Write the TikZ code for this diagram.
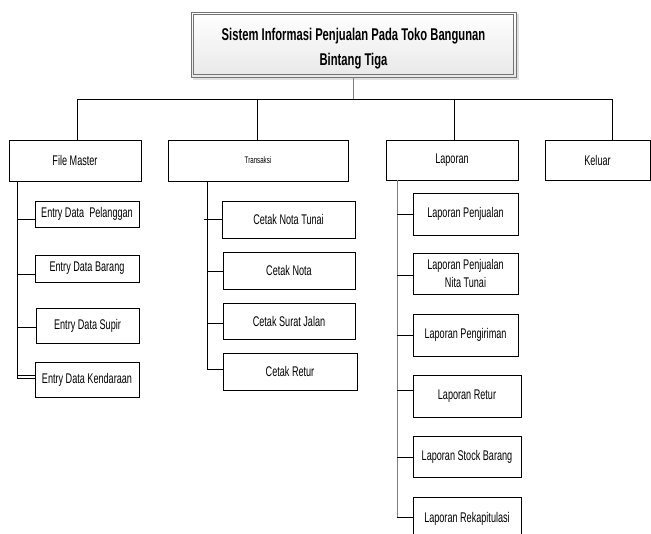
\documentclass[tikz,border=0pt]{standalone}
\usepackage{fontspec}
\setmainfont{Liberation Sans}[FakeStretch=0.65]
\newfontfamily\headfont{Liberation Sans}[FakeStretch=0.66]
\begin{document}
\begin{tikzpicture}[x=1pt,y=-1pt,
  box/.style={draw=black, line width=0.9pt, fill=white, inner sep=0pt,
    align=center, font=\fontsize{14}{17.5}\selectfont},
  link/.style={draw=black, line width=0.9pt},
  greylink/.style={draw=black!50, line width=1pt},
  frame/.style={draw=black!55, line width=0.9pt}]
\useasboundingbox (0,0) rectangle (651,534);
\clip (0,0) rectangle (651,534);

% main title with shadow and double frame
\fill[black!12] (193,14) rectangle (519,80);
\node[frame, inner sep=0pt, minimum width=325pt, minimum height=65pt,
  top color=white, bottom color=black!9] (title) at (353.5,44.5) {};
\draw[frame] ([shift={(3,3)}]title.north west) rectangle ([shift={(-3,-3)}]title.south east);
\node[align=center, inner sep=0pt,
  font=\headfont\bfseries\fontsize{17}{25}\selectfont] (titletext) at ([yshift=-4pt]title.center)
  {Sistem Informasi Penjualan Pada Toko Bangunan\\Bintang Tiga};

% first level menus
\node[box, minimum width=132pt, minimum height=41pt] (fm) at (75,160.5) {File Master};
\node[box, minimum width=180pt, minimum height=41pt, font=\fontsize{9.5}{11}\selectfont] (tr) at (258,160.5) {Transaksi};
\node[box, minimum width=132pt, minimum height=40pt] (lp) at (452,160) {Laporan};
\node[box, minimum width=105pt, minimum height=40pt] (kl) at (597.5,160) {Keluar};

% File Master items
\node[box, minimum width=104pt, minimum height=26pt] (e1) at (87,214) {Entry Data\ \ Pelanggan};
\node[box, minimum width=104pt, minimum height=27pt] (e2) at (87,268.5) {Entry Data Barang};
\node[box, minimum width=103pt, minimum height=35pt] (e3) at (87.5,325.5) {Entry Data Supir};
\node[box, minimum width=104pt, minimum height=35pt] (e4) at (87,379.5) {Entry Data Kendaraan};

% Transaksi items
\node[box, minimum width=133pt, minimum height=37pt] (c1) at (288.5,219.5) {Cetak Nota Tunai};
\node[box, minimum width=132pt, minimum height=37pt] (c2) at (289,270.5) {Cetak Nota};
\node[box, minimum width=132pt, minimum height=36pt] (c3) at (289,321) {Cetak Surat Jalan};
\node[box, minimum width=134pt, minimum height=37pt] (c4) at (290,371.5) {Cetak Retur};

% Laporan items
\node[box, minimum width=105pt, minimum height=42pt] (l1) at (465.5,214) {Laporan Penjualan};
\node[box, minimum width=105pt, minimum height=41pt] (l2) at (465.5,273.5) {Laporan Penjualan\\Nita Tunai};
\node[box, minimum width=105pt, minimum height=42pt] (l3) at (465.5,335) {Laporan Pengiriman};
\node[box, minimum width=108pt, minimum height=42pt] (l4) at (467,396) {Laporan Retur};
\node[box, minimum width=108pt, minimum height=41pt] (l5) at (467,456.5) {Laporan Stock Barang};
\node[box, minimum width=108pt, minimum height=43pt] (l6) at (467,518.5) {Laporan Rekapitulasi};

% title to bus
\draw[greylink] (title.south) -- (title.south |- 0,99);
\draw[link] (fm.north -| 77,0) -- (77,99) -- (612,99) -- (kl.north -| 612,0);
\draw[link] (tr.north -| 257,0) -- (257,99);
\draw[link] (lp.north -| 454,0) -- (454,99);

% File Master branch
\draw[link] (fm.south -| 17,0) -- (17,378);
\draw[link] (17,219) -- (e1.west |- 0,219);
\draw[link] (17,274) -- (e2.west |- 0,274);
\draw[link] (17,327) -- (e3.west |- 0,327);
\draw[link] (17,375) -- (e4.west |- 0,375);
\draw[link] (17,378) -- (e4.west |- 0,378);

% Transaksi branch
\draw[link] (tr.south -| 207,0) -- (207,369);
\draw[link] (204,219) -- (c1.west |- 0,219);
\draw[link] (207,271) -- (c2.west |- 0,271);
\draw[link] (207,323) -- (c3.west |- 0,323);
\draw[link] (207,369) -- (c4.west |- 0,369);

% Laporan branch
\draw[greylink] (lp.south -| 397,0) -- (397,517);
\draw[link] (397,214) -- (l1.west |- 0,214);
\draw[link] (397,275) -- (l2.west |- 0,275);
\draw[link] (397,335) -- (l3.west |- 0,335);
\draw[link] (397,390) -- (l4.west |- 0,390);
\draw[link] (397,457) -- (l5.west |- 0,457);
\draw[link] (396.5,517) -- (l6.west |- 0,517);
\end{tikzpicture}
\end{document}
